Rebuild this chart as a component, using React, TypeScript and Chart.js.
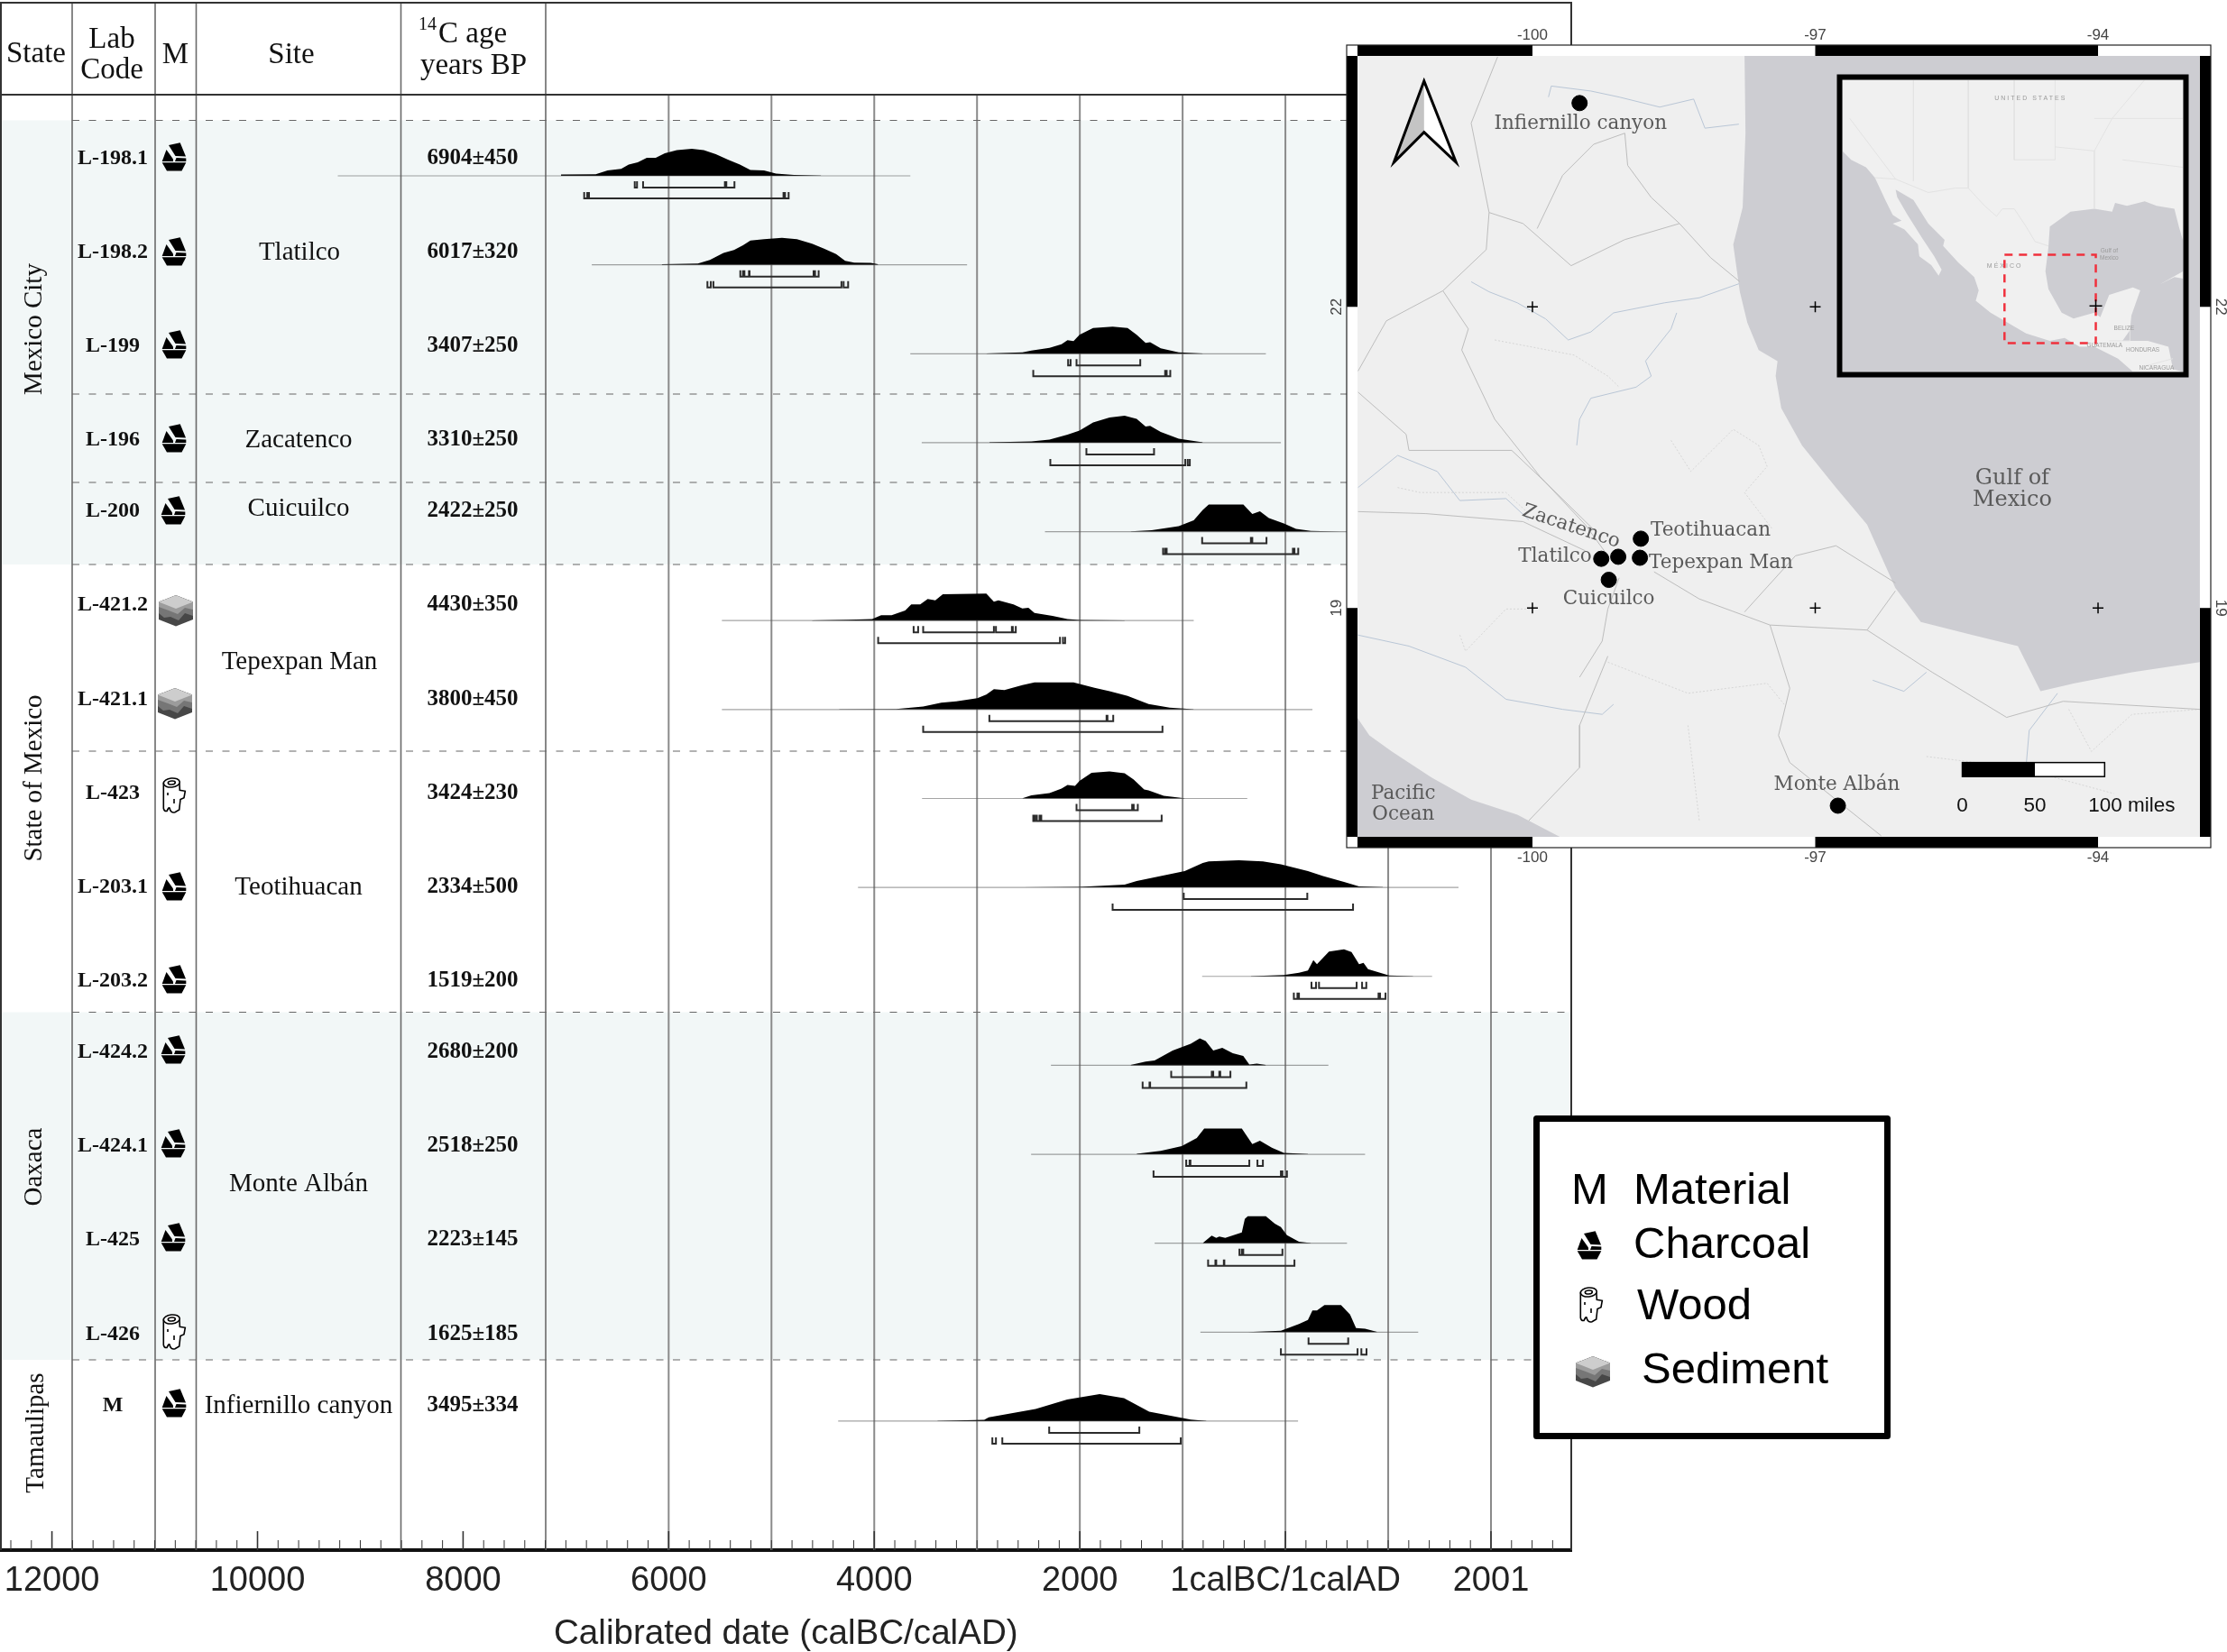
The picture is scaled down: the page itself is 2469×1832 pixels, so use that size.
import React, { useEffect, useRef } from "react";
import { Chart, registerables } from "chart.js";

Chart.register(...registerables);

const SERIF = '"Liberation Serif"';
const SANS = '"Liberation Sans"';
const SLAB = '"DejaVu Serif"';

/* ---------- table content ---------- */
const labCodes = ["L-198.1", "L-198.2", "L-199", "L-196", "L-200", "L-421.2", "L-421.1", "L-423", "L-203.1", "L-203.2", "L-424.2", "L-424.1", "L-425", "L-426", "M"];
const ages = ["6904±450", "6017±320", "3407±250", "3310±250", "2422±250", "4430±350", "3800±450", "3424±230", "2334±500", "1519±200", "2680±200", "2518±250", "2223±145", "1625±185", "3495±334"];
const materials = ["c", "c", "c", "c", "c", "s", "s", "w", "c", "c", "c", "c", "c", "w", "c"];
const siteNames = ["Tlatilco", "Zacatenco", "Cuicuilco", "Tepexpan Man", "Teotihuacan", "Monte Albán", "Infiernillo canyon"];
const stateNames = ["Mexico City", "State of Mexico", "Oaxaca", "Tamaulipas"];

/* ---------- calibrated ranges (years, negative = calBC) ---------- */
const tailStart = [-9219, -6748, -3649, -3538, -2339, -5482, -5482, -3535, -4158, -810, -2281, -2474, -1272, -827, -4351];
const tailEnd = [-3649, -3097, -190, -44, 620, -892, 263, -371, 1684, 1427, 418, 775, 599, 1292, 123];

const sigma1: number[][][] = [
  [[-6330, -6308], [-6249, -5453], [-5439, -5360]],
  [[-5303, -5277], [-5263, -5219], [-5213, -4590], [-4576, -4541]],
  [[-2114, -2090], [-2032, -1412]],
  [[-1936, -1278]],
  [[-810, -336], [-322, -184]],
  [[-3617, -3573], [-3524, -2836], [-2816, -2661], [-2652, -2623]],
  [[-2880, -1740], [-1731, -1675]],
  [[-2032, -1491], [-1476, -1436]],
  [[-989, 213]],
  [[254, 298], [327, 693], [746, 787]],
  [[-1111, -716], [-702, -643], [-634, -535]],
  [[-965, -932], [-924, -351], [-272, -219]],
  [[-447, -424], [-410, -29]],
  [[225, 611]],
  [[-2298, -1421]],
];
const sigma2: number[][][] = [
  [[-6822, -6792], [-6775, -4883], [-4868, -4833]],
  [[-5623, -5590], [-5565, -4319], [-4298, -4254]],
  [[-2453, -1170], [-1155, -1120]],
  [[-2287, -974], [-950, -930]],
  [[-1190, -1170], [-1155, 73], [88, 125]],
  [[-3962, -2193], [-2164, -2143]],
  [[-3524, -1196]],
  [[-2453, -2436], [-2418, -2392], [-2375, -1204]],
  [[-1681, 658]],
  [[82, 117], [132, 906], [921, 974]],
  [[-1389, -1322], [-1316, -380]],
  [[-1283, -44], [-29, 15]],
  [[-752, -681], [-673, -599], [-594, 88]],
  [[-44, 702], [739, 789]],
  [[-2851, -2816], [-2754, -1018]],
];

/* ---------- probability curves: [year, relative density] ---------- */
const density: number[][][] = [
  [[-7047, .05], [-6710, .06], [-6594, .2], [-6462, .26], [-6389, .42], [-6301, .5], [-6213, .67], [-6126, .67], [-6038, .83], [-5921, .95], [-5775, 1], [-5658, .95], [-5541, .8], [-5424, .6], [-5307, .42], [-5205, .22], [-5073, .2], [-4956, .08], [-4781, .03], [-4517, .01]],
  [[-6067, .02], [-5716, .05], [-5599, .18], [-5467, .44], [-5365, .55], [-5277, .72], [-5205, .9], [-5073, .95], [-4898, 1], [-4752, .95], [-4605, .78], [-4488, .6], [-4371, .4], [-4283, .15], [-4195, .08], [-4035, .07], [-3962, .02]],
  [[-2909, .01], [-2558, .05], [-2471, .12], [-2295, .22], [-2178, .35], [-2120, .5], [-2061, .47], [-2003, .7], [-1871, .95], [-1681, 1], [-1535, .95], [-1447, .7], [-1360, .4], [-1316, .43], [-1213, .2], [-1038, .05], [-804, .01]],
  [[-2880, .01], [-2471, .05], [-2295, .11], [-2120, .3], [-2003, .45], [-1871, .75], [-1711, .93], [-1564, 1], [-1447, .88], [-1360, .6], [-1316, .62], [-1213, .4], [-1038, .15], [-804, .01]],
  [[-1506, .01], [-1301, .05], [-1038, .2], [-892, .42], [-804, .8], [-746, 1], [-409, 1], [-322, .65], [-248, .75], [-161, .5], [-15, .3], [103, .1], [248, .03], [541, .005]],
  [[-4605, .01], [-4254, .03], [-4020, .06], [-3933, .2], [-3831, .2], [-3699, .37], [-3640, .6], [-3553, .6], [-3480, .8], [-3406, .75], [-3333, .97], [-2910, 1], [-2836, .7], [-2792, .75], [-2646, .6], [-2559, .45], [-2500, .47], [-2441, .28], [-2266, .17], [-2120, .06], [-2003, .02], [-1564, .005]],
  [[-4342, .01], [-3787, .02], [-3524, .11], [-3348, .25], [-3202, .3], [-2997, .42], [-2910, .55], [-2836, .75], [-2734, .72], [-2559, .9], [-2441, 1], [-2061, 1], [-1857, .8], [-1711, .68], [-1535, .5], [-1331, .2], [-1126, .07], [-892, .01]],
  [[-2559, .01], [-2471, .12], [-2295, .2], [-2178, .37], [-2120, .5], [-2047, .47], [-2003, .65], [-1886, .95], [-1711, 1], [-1564, .93], [-1476, .7], [-1374, .33], [-1331, .3], [-1184, .1], [-980, .01]],
  [[-2559, .005], [-2003, .02], [-1564, .1], [-1447, .24], [-980, .6], [-804, .9], [-746, .96], [-453, 1], [-219, .96], [-44, .85], [219, .6], [366, .42], [570, .2], [717, .04], [950, .01]],
  [[-336, .01], [-15, .05], [132, .13], [219, .22], [272, .6], [307, .45], [424, .92], [570, 1], [643, .9], [717, .45], [760, .5], [804, .27], [921, .13], [1009, .03], [1243, .005]],
  [[-1506, .01], [-1360, .14], [-1272, .18], [-1097, .55], [-921, .8], [-833, 1], [-775, .9], [-702, .55], [-614, .65], [-512, .45], [-410, .35], [-351, .03], [-278, .06], [-190, .01]],
  [[-1447, .02], [-1213, .13], [-1009, .3], [-862, .6], [-790, .95], [-424, .95], [-322, .38], [-248, .5], [-132, .24], [-15, .05], [219, .01]],
  [[-804, .01], [-717, .28], [-673, .2], [-643, .25], [-585, .2], [-424, .4], [-395, .9], [-366, 1], [-190, 1], [-103, .72], [-44, .6], [15, .3], [132, .06], [248, .01]],
  [[-366, .005], [-44, .05], [132, .3], [219, .45], [263, .8], [307, .8], [380, 1], [541, 1], [629, .65], [687, .15], [775, .13], [892, .01]],
  [[-3386, .01], [-2930, .05], [-2886, .14], [-2430, .45], [-2123, .8], [-1807, 1], [-1570, .85], [-1325, .35], [-921, .06], [-768, .01]],
];

/* ---------- time axis ---------- */
const axisYears = [-12000, -10000, -8000, -6000, -4000, -2000, 0, 2000];
const axisLabels = ["12000", "10000", "8000", "6000", "4000", "2000", "1calBC/1calAD", "2001"];
const gridYears = [-6000, -5000, -4000, -3000, -2000, -1000, 0, 1000, 2000];
const axisTicks: number[] = [];
for (let v = -12400; v <= 2600; v += 200) axisTicks.push(v);

/* ---------- layout of the table (pixels on the page) ---------- */
const columnX = [80, 172, 217.5, 444.5, 605];
const rowTextY = [176, 280, 384, 488, 567, 671, 776, 880, 984, 1088, 1167, 1271, 1375, 1480, 1559];
const iconY = [174, 279, 382, 486, 566, 677, 780, 882, 983, 1086, 1164, 1268, 1372, 1477, 1556];
const iconX = [193, 193, 193, 193, 192, 195, 194, 193, 193, 193, 192, 192, 192, 193, 193];
const siteX = [332, 331, 331, 332, 331, 331, 331];
const siteY = [280, 488, 564, 734, 984, 1313, 1559];
const stateX = [38, 38, 38, 40];
const stateY = [365, 863, 1294, 1589];
const ROW1 = 195, ROWH = 98.64, PEAK = 30 / 98.64, OFF1 = 13 / 98.64, OFF2 = 25 / 98.64, TICK = 7 / 98.64;
const toRow = (py: number) => 1 + (py - ROW1) / ROWH;
const dashedY = [133.5, 437, 535, 626, 833, 1122.5, 1508];
const bands = [[133.5, 626], [1122.5, 1508]];

/* ---------- main map, lon / lat ---------- */
const gulf = [[-97.75, 24.5], [-97.74, 23.73], [-97.77, 22.99], [-97.87, 22.62], [-97.8, 22.15], [-97.72, 21.84], [-97.6, 21.57], [-97.4, 21.46], [-97.42, 21.31], [-97.36, 20.99], [-97.14, 20.62], [-96.78, 20.2], [-96.45, 19.83], [-96.15, 19.2], [-95.88, 18.86], [-95.33, 18.73], [-94.85, 18.62], [-94.61, 18.17], [-94.25, 18.25], [-93.64, 18.36], [-92.92, 18.46], [-92.92, 24.5]];
const pacific = [[-101.86, 17.91], [-101.73, 17.73], [-101.49, 17.57], [-101.07, 17.31], [-100.65, 17.09], [-100.16, 16.94], [-99.71, 16.72], [-101.86, 16.72]];
const roads = [
  [[-100.37, 24.49], [-100.65, 23.83], [-100.46, 22.94]],
  [[-100.46, 22.94], [-100.1, 22.83], [-99.59, 22.41], [-99.02, 22.67], [-98.44, 22.83], [-98.11, 22.49], [-97.8, 22.25]],
  [[-100.46, 22.94], [-100.49, 22.57], [-100.95, 22.16], [-101.55, 21.86], [-101.85, 21.36]],
  [[-100.95, 22.16], [-100.68, 21.78], [-100.75, 21.57], [-100.4, 20.88], [-99.92, 20.31], [-99.44, 19.83], [-99.2, 19.52]],
  [[-101.85, 21.15], [-101.34, 20.73], [-101.31, 20.57], [-100.22, 20.57], [-99.86, 20.25], [-99.35, 19.78]],
  [[-101.85, 19.96], [-101.13, 19.94], [-100.1, 19.86], [-99.44, 19.57]],
  [[-98.71, 19.36], [-98.23, 19.09], [-97.48, 18.83], [-96.45, 18.78], [-95.76, 18.36], [-94.97, 17.91], [-94.37, 18.07], [-92.92, 17.99]],
  [[-97.48, 18.83], [-97.27, 18.2], [-97.39, 17.73], [-97.27, 17.46], [-96.78, 17.09], [-96.3, 16.73]],
  [[-96.45, 18.78], [-96.15, 19.17]],
  [[-99.2, 18.99], [-99.26, 18.67], [-99.5, 18.31]],
  [[-99.2, 18.52], [-99.5, 17.83], [-99.5, 17.41], [-100.04, 16.88]],
  [[-97.75, 18.96], [-97.21, 19.52], [-96.78, 19.62], [-96.15, 19.25]],
  [[-99.95, 22.78], [-99.68, 23.31], [-99.35, 23.62], [-99.02, 23.73], [-98.99, 23.41], [-98.74, 23.09], [-98.44, 22.83]],
  [[-99.08, 19.3], [-99.2, 18.99]],
];
const rivers = [
  [[-100.65, 22.25], [-100.46, 22.15], [-100.16, 22.04], [-99.86, 21.88], [-99.62, 21.67], [-99.38, 21.75], [-99.14, 21.94], [-98.6, 22.04], [-98.23, 22.09], [-97.81, 22.23]],
  [[-99.53, 20.62], [-99.5, 20.88], [-99.38, 21.09], [-98.9, 21.2], [-98.74, 21.31], [-98.8, 21.46], [-98.53, 21.78], [-98.47, 21.94]],
  [[-101.85, 18.73], [-101.31, 18.62], [-100.71, 18.41], [-100.28, 18.09], [-99.68, 17.99], [-99.26, 17.94], [-99.14, 18.04]],
  [[-99.83, 24.09], [-99.8, 24.2], [-99.38, 24.15], [-99.08, 24.09], [-98.65, 23.99], [-98.29, 24.07], [-98.17, 23.78], [-97.81, 23.82]],
  [[-101.85, 20.2], [-101.43, 20.52], [-101.01, 20.36], [-100.77, 20.07], [-100.28, 20.09], [-100.04, 19.88]],
  [[-96.39, 18.28], [-96.06, 18.17], [-95.82, 18.36]],
  [[-94.43, 18.15], [-94.73, 17.78], [-94.76, 17.46], [-94.25, 17.36]],
];
const borders = [
  [[-98.53, 20.67], [-98.32, 20.36], [-97.87, 20.78], [-97.6, 20.62], [-97.51, 20.41], [-97.75, 20.15], [-97.45, 19.78]],
  [[-100.77, 18.73], [-100.71, 18.57], [-100.28, 18.99], [-99.98, 18.99]],
  [[-100.4, 21.67], [-99.56, 21.52], [-99.2, 21.31], [-99.08, 21.2]],
  [[-101.43, 20.2], [-101.19, 20.15], [-100.28, 20.15], [-100.04, 19.94]],
  [[-99.2, 18.46], [-98.35, 18.15], [-97.51, 18.25], [-97.33, 18.04]],
  [[-98.35, 17.83], [-98.23, 16.88]],
  [[-95.82, 17.52], [-94.85, 17.41], [-93.83, 17.15]],
  [[-94.31, 17.99], [-94.07, 17.57], [-93.64, 17.94], [-92.92, 17.99]],
];
const graticuleLon = [-100, -97, -94];
const graticuleLat = [22, 19];
const crosses = [[-100, 22], [-97, 22], [-100, 19], [-97, 19], [-94, 19]];
const sitePoints = [[-99.5, 24.03], [-98.85, 19.69], [-98.86, 19.5], [-99.09, 19.51], [-99.27, 19.49], [-99.19, 19.28], [-96.76, 17.03]];
const mapLabelText = ["Infiernillo canyon", "Teotihuacan", "Tepexpan Man", "Tlatilco", "Cuicuilco", "Monte Albán", "Pacific", "Ocean"];
const mapLabelLon = [-99.49, -98.11, -98.0, -99.76, -99.19, -96.77, -101.37, -101.37];
const mapLabelLat = [23.82, 19.77, 19.45, 19.51, 19.09, 17.24, 17.15, 16.94];
const gulfLabelText = ["Gulf of", "Mexico"];
const gulfLabelLon = [-94.91, -94.91];
const gulfLabelLat = [20.29, 20.07];
const northArrow = [[-101.15, 24.25], [-100.81, 23.44], [-101.15, 23.74], [-101.47, 23.44]];
const scaleBarLon = [-95.44, -94.67, -93.93];

/* ---------- inset, lon / lat ---------- */
const insetPacific = [[-117.73, 33.64], [-116.86, 32.86], [-115.41, 32.2], [-114.54, 31.29], [-113.52, 29.33], [-112.8, 28.02], [-111.93, 27.5], [-112.8, 27.24], [-111.64, 26.72], [-110.33, 25.41], [-110.19, 24.37], [-109.02, 23.59], [-108.3, 22.67], [-108.01, 23.19], [-108.73, 24.37], [-109.89, 25.94], [-111.35, 28.02], [-112.36, 29.59], [-112.51, 30.24], [-110.77, 29.33], [-109.31, 27.24], [-107.72, 25.81], [-107.86, 25.28], [-106.41, 23.85], [-104.82, 22.54], [-104.38, 21.37], [-104.67, 20.45], [-103.22, 19.41], [-101.48, 18.49], [-99.74, 17.58], [-97.42, 16.93], [-95.97, 17.19], [-94.51, 16.41], [-93.06, 16.41], [-90.74, 15.36], [-89.58, 14.45], [-89.29, 14.19], [-117.73, 14.19]];
const insetGulf = [[-84.36, 25.67], [-84.79, 26.98], [-85.23, 28.55], [-86.97, 28.81], [-88.13, 29.2], [-89.87, 28.81], [-91.03, 29.07], [-91.32, 28.29], [-93.06, 28.55], [-95.39, 28.29], [-97.42, 26.98], [-97.56, 25.15], [-97.85, 23.06], [-97.56, 21.5], [-96.26, 19.41], [-95.1, 18.89], [-93.06, 19.41], [-92.48, 19.02], [-91.61, 20.98], [-89.29, 21.63], [-88.57, 21.37], [-89.44, 19.15], [-89.58, 17.86], [-90.31, 16.93], [-87.84, 16.93], [-85.81, 16.41], [-85.37, 14.45], [-84.36, 14.19]];
const insetCuba = [[-86.68, 21.89], [-84.36, 23.06], [-84.36, 22.41], [-85.23, 22.54]];
const insetBorders = [
  [[-114.54, 31.29], [-112.51, 31.16], [-109.31, 29.98], [-106.7, 30.37], [-105.4, 30.37], [-103.8, 28.81], [-102.64, 27.89], [-102.06, 28.55], [-100.9, 28.55], [-99.74, 26.98], [-98.87, 25.67], [-97.56, 25.28]],
  [[-100.9, 39.9], [-100.9, 32.86], [-96.9, 32.86], [-96.9, 39.9]],
  [[-105.4, 39.9], [-105.4, 30.37]],
  [[-110.77, 39.9], [-110.77, 31]],
  [[-117, 36.5], [-112.51, 31.16]],
  [[-96.9, 34], [-93.06, 33.64], [-91.32, 36.5], [-88.13, 39.9]],
  [[-93.06, 33.64], [-93.06, 28.55]],
  [[-93.06, 36.5], [-84.36, 36.5]],
  [[-90.31, 32.86], [-84.36, 32.2]],
  [[-91.61, 16.93], [-89.58, 16.93], [-89.58, 18.1]],
  [[-88.13, 14.7], [-85.37, 15.36]],
];
const redBoxLon = [-101.856, -92.919];
const redBoxLat = [24.5, 16.72];
const insetLabelText = ["UNITED STATES", "MÉXICO", "Gulf of", "Mexico", "BELIZE", "GUATEMALA", "HONDURAS", "NICARAGUA"];
const insetLabelLon = [-99.3, -101.83, -91.61, -91.61, -90.16, -92.05, -88.33, -86.97];
const insetLabelLat = [38.29, 23.48, 24.81, 24.19, 18.05, 16.51, 16.09, 14.53];
const insetCross = [[-92.92, 20.01]];

/* ---------- helpers ---------- */
function txt(ctx: CanvasRenderingContext2D, s: string, x: number, y: number, font: string, color = "#111", align: CanvasTextAlign = "center", base: CanvasTextBaseline = "middle", rot = 0) {
  ctx.save();
  ctx.translate(x, y);
  if (rot) ctx.rotate(rot);
  ctx.font = font;
  ctx.fillStyle = color;
  ctx.textAlign = align;
  ctx.textBaseline = base;
  ctx.fillText(s, 0, 0);
  ctx.restore();
}
function poly(ctx: CanvasRenderingContext2D, pts: number[][]) {
  ctx.beginPath();
  pts.forEach((p, i) => (i ? ctx.lineTo(p[0], p[1]) : ctx.moveTo(p[0], p[1])));
  ctx.closePath();
}
function charcoal(ctx: CanvasRenderingContext2D, x: number, y: number) {
  ctx.save();
  ctx.translate(x, y);
  ctx.fillStyle = "#000";
  [
    [[-6, -13], [6.7, -15.7], [13, -0.5], [1.5, -1]],
    [[-13.3, 5], [-8.5, -8], [-1, 2.5], [-1, 5]],
    [[1, 5], [2.5, 1], [13.3, 1.5], [13.3, 5]],
    [[-13.3, 6.3], [13.3, 6.3], [8.5, 15.5], [-8, 15.5]],
  ].forEach((s) => {
    poly(ctx, s);
    ctx.fill();
  });
  ctx.restore();
}
function wood(ctx: CanvasRenderingContext2D, x: number, y: number) {
  ctx.save();
  ctx.translate(x, y);
  ctx.strokeStyle = "#000";
  ctx.fillStyle = "#fff";
  ctx.lineWidth = 1.6;
  ctx.beginPath();
  ctx.moveTo(-11.7, -13);
  ctx.lineTo(-11.7, 14.3);
  ctx.quadraticCurveTo(-11, 18, -8, 17.5);
  ctx.quadraticCurveTo(-6, 13, -5, 14);
  ctx.quadraticCurveTo(-4, 20, 1, 18.8);
  ctx.lineTo(5.7, 16);
  ctx.lineTo(7, 4.5);
  ctx.lineTo(11, 2.7);
  ctx.lineTo(12.3, -4.7);
  ctx.lineTo(6.3, -5.7);
  ctx.lineTo(6, -13);
  ctx.closePath();
  ctx.fill();
  ctx.stroke();
  ctx.beginPath();
  ctx.ellipse(-2.7, -14, 9, 5, -0.1, 0, Math.PI * 2);
  ctx.fill();
  ctx.stroke();
  ctx.beginPath();
  ctx.ellipse(-2.7, -14, 4, 2, -0.1, 0, Math.PI * 2);
  ctx.stroke();
  ctx.beginPath();
  ctx.moveTo(-7, -3);
  ctx.lineTo(-7, 0);
  ctx.moveTo(0, 4);
  ctx.lineTo(0, 9);
  ctx.stroke();
  ctx.restore();
}
function sediment(ctx: CanvasRenderingContext2D, x: number, y: number) {
  ctx.save();
  ctx.translate(x, y);
  const hex = [[0, -17], [19, -9.5], [19, 10], [0, 17.5], [-19, 10], [-19, -9.5]];
  poly(ctx, hex);
  ctx.fillStyle = "#474747";
  ctx.fill();
  ctx.clip();
  ctx.fillStyle = "#767676";
  poly(ctx, [[-19, -12], [19, -12], [19, 6], [10, 3], [3, 11], [-6, 7], [-13, 8], [-19, 3]]);
  ctx.fill();
  ctx.fillStyle = "#9c9c9c";
  poly(ctx, [[-19, -12], [19, -12], [19, -1], [10, -3], [2, 4], [-8, 0], [-19, -4]]);
  ctx.fill();
  ctx.fillStyle = "#cdcdcd";
  poly(ctx, [[0, -17], [19, -9.5], [0, -2], [-19, -9.5]]);
  ctx.fill();
  ctx.restore();
}
const drawIcon: Record<string, typeof charcoal> = { c: charcoal, w: wood, s: sediment };
const xy = (p: number[]) => ({ x: p[0], y: p[1] });

/* ---------- main chart plugin: table, bands, legend ---------- */
const tablePlugin = {
  id: "table",
  beforeDatasetsDraw(chart: any) {
    const ctx: CanvasRenderingContext2D = chart.ctx;
    const x = chart.scales.x, y = chart.scales.y;
    const py = (p: number) => y.getPixelForValue(toRow(p));
    const R = x.right, T = y.top, B = y.bottom;
    ctx.save();
    ctx.fillStyle = "#f2f7f7";
    bands.forEach(([a, b]) => ctx.fillRect(0, py(a), R, py(b) - py(a)));
    ctx.strokeStyle = "#8a8a8a";
    ctx.lineWidth = 2;
    gridYears.forEach((g) => {
      const gx = x.getPixelForValue(g);
      ctx.beginPath();
      ctx.moveTo(gx, py(105));
      ctx.lineTo(gx, B);
      ctx.stroke();
    });
    ctx.strokeStyle = "#6a6a6a";
    ctx.lineWidth = 1.6;
    columnX.forEach((c) => {
      ctx.beginPath();
      ctx.moveTo(c, T);
      ctx.lineTo(c, B);
      ctx.stroke();
    });
    ctx.setLineDash([8, 10.5]);
    ctx.strokeStyle = "#666";
    ctx.lineWidth = 1.2;
    dashedY.forEach((d) => {
      ctx.beginPath();
      ctx.moveTo(80, py(d));
      ctx.lineTo(R, py(d));
      ctx.stroke();
    });
    ctx.setLineDash([]);
    ctx.strokeStyle = "#333";
    ctx.lineWidth = 2;
    ctx.beginPath();
    ctx.moveTo(1, B);
    ctx.lineTo(1, T);
    ctx.lineTo(R, T);
    ctx.lineTo(R, B);
    ctx.moveTo(0, py(105));
    ctx.lineTo(R, py(105));
    ctx.stroke();
    ctx.restore();
  },
  afterDraw(chart: any) {
    const ctx: CanvasRenderingContext2D = chart.ctx;
    const x = chart.scales.x, y = chart.scales.y;
    ctx.save();
    ctx.strokeStyle = "#333";
    axisTicks.forEach((t) => {
      const tx = x.getPixelForValue(t);
      const major = axisYears.includes(t);
      ctx.lineWidth = major ? 1.6 : 1;
      ctx.beginPath();
      ctx.moveTo(tx, y.bottom);
      ctx.lineTo(tx, y.bottom - (major ? 21 : 11));
      ctx.stroke();
    });
    ctx.restore();

    const h = `33px ${SERIF}`;
    txt(ctx, "State", 40, 69, h, "#111", "center", "alphabetic");
    txt(ctx, "Lab", 124, 53, h, "#111", "center", "alphabetic");
    txt(ctx, "Code", 124, 86.5, h, "#111", "center", "alphabetic");
    txt(ctx, "M", 194.5, 69.5, h, "#111", "center", "alphabetic");
    txt(ctx, "Site", 323, 70, h, "#111", "center", "alphabetic");
    txt(ctx, "14", 464, 33, `20px ${SERIF}`, "#111", "left", "alphabetic");
    txt(ctx, "C age", 486, 47, h, "#111", "left", "alphabetic");
    txt(ctx, "years BP", 525, 82, h, "#111", "center", "alphabetic");

    labCodes.forEach((c, i) => {
      txt(ctx, c, 125, rowTextY[i], `bold 24px ${SERIF}`);
      txt(ctx, ages[i], 524, rowTextY[i], `bold 25px ${SERIF}`);
      drawIcon[materials[i]](ctx, iconX[i], iconY[i]);
    });
    siteNames.forEach((s, i) => txt(ctx, s, siteX[i], siteY[i], `29px ${SERIF}`));
    stateNames.forEach((s, i) => txt(ctx, s, stateX[i], stateY[i], `29px ${SERIF}`, "#111", "center", "middle", -Math.PI / 2));

    // legend box
    ctx.save();
    ctx.fillStyle = "#fff";
    ctx.strokeStyle = "#000";
    ctx.lineWidth = 7;
    ctx.lineJoin = "round";
    ctx.fillRect(1703.5, 1240.5, 389, 352);
    ctx.strokeRect(1703.5, 1240.5, 389, 352);
    ctx.restore();
    const lf = `49px ${SANS}`;
    txt(ctx, "M", 1742, 1335, lf, "#000", "left", "alphabetic");
    txt(ctx, "Material", 1811, 1335, lf, "#000", "left", "alphabetic");
    txt(ctx, "Charcoal", 1811, 1395, lf, "#000", "left", "alphabetic");
    txt(ctx, "Wood", 1815, 1463, lf, "#000", "left", "alphabetic");
    txt(ctx, "Sediment", 1820, 1534, lf, "#000", "left", "alphabetic");
    charcoal(ctx, 1762, 1381);
    wood(ctx, 1764, 1447);
    sediment(ctx, 1766, 1521);
  },
};

/* ---------- map plugin ---------- */
const mapPlugin = {
  id: "mapFrame",
  beforeDatasetsDraw(chart: any) {
    const { ctx, chartArea: a } = chart;
    ctx.fillStyle = "#efefef";
    ctx.fillRect(a.left, a.top, a.right - a.left, a.bottom - a.top);
  },
  afterDraw(chart: any) {
    const ctx: CanvasRenderingContext2D = chart.ctx;
    const x = chart.scales.x, y = chart.scales.y;
    const a = chart.chartArea;
    const px = (v: number) => x.getPixelForValue(v);
    const py = (v: number) => y.getPixelForValue(v);

    // graduated frame
    const W = 12;
    const L = a.left - W, Rr = a.right + W, Tt = a.top - W, Bb = a.bottom + W;
    ctx.save();
    ctx.fillStyle = "#fff";
    ctx.fillRect(L, Tt, Rr - L, W);
    ctx.fillRect(L, a.bottom, Rr - L, W);
    ctx.fillRect(L, Tt, W, Bb - Tt);
    ctx.fillRect(a.right, Tt, W, Bb - Tt);
    ctx.fillStyle = "#000";
    const g0 = px(graticuleLon[0]), g1 = px(graticuleLon[1]), g2 = px(graticuleLon[2]);
    [Tt, a.bottom].forEach((t) => {
      ctx.fillRect(a.left, t, g0 - a.left, W);
      ctx.fillRect(g1, t, g2 - g1, W);
    });
    const l0 = py(graticuleLat[0]), l1 = py(graticuleLat[1]);
    [L, a.right].forEach((s) => {
      ctx.fillRect(s, a.top, W, l0 - a.top);
      ctx.fillRect(s, l1, W, a.bottom - l1);
    });
    ctx.strokeStyle = "#222";
    ctx.lineWidth = 1.2;
    ctx.strokeRect(L, Tt, Rr - L, Bb - Tt);
    ctx.restore();

    const tf = `17px ${SANS}`;
    graticuleLon.forEach((g) => {
      txt(ctx, String(g), px(g), 39 - chart.canvas.offsetTop, tf, "#444");
      txt(ctx, String(g), px(g), 951 - chart.canvas.offsetTop, tf, "#444");
    });
    graticuleLat.forEach((g) => {
      txt(ctx, String(g), L - 11, py(g), tf, "#444", "center", "middle", -Math.PI / 2);
      txt(ctx, String(g), Rr + 11, py(g), tf, "#444", "center", "middle", Math.PI / 2);
    });

    // labels
    const lf = `21.5px ${SLAB}`;
    mapLabelText.forEach((s, i) => txt(ctx, s, px(mapLabelLon[i]), py(mapLabelLat[i]), lf, "#5a5a5a"));
    gulfLabelText.forEach((s, i) => txt(ctx, s, px(gulfLabelLon[i]), py(gulfLabelLat[i]), `24px ${SLAB}`, "#5a5a5a"));
    txt(ctx, "Zacatenco", px(-99.59), py(19.81), lf, "#5a5a5a", "center", "middle", 0.32);

    // north arrow
    ctx.save();
    const arrow = northArrow.map((p) => [px(p[0]), py(p[1])]);
    poly(ctx, arrow);
    ctx.fillStyle = "#fff";
    ctx.fill();
    poly(ctx, [arrow[0], arrow[2], arrow[3]]);
    ctx.fillStyle = "#c4c4c4";
    ctx.fill();
    poly(ctx, arrow);
    ctx.strokeStyle = "#000";
    ctx.lineWidth = 3;
    ctx.lineJoin = "miter";
    ctx.stroke();
    ctx.restore();

    // scale bar
    const sb = scaleBarLon.map(px);
    const sy = py(17.46), sh = py(17.32) - sy;
    ctx.fillStyle = "#000";
    ctx.fillRect(sb[0], sy, sb[1] - sb[0], sh);
    ctx.fillStyle = "#fff";
    ctx.fillRect(sb[1], sy, sb[2] - sb[1], sh);
    ctx.strokeStyle = "#000";
    ctx.lineWidth = 1.5;
    ctx.strokeRect(sb[0], sy, sb[2] - sb[0], sh);
    const sf = `22.5px ${SANS}`;
    const ly = py(17.03);
    txt(ctx, "0", sb[0], ly, sf, "#111");
    txt(ctx, "50", sb[1], ly, sf, "#111");
    txt(ctx, "100 miles", sb[2] + 30, ly, sf, "#111");
  },
};

const insetPlugin = {
  id: "insetFrame",
  beforeDatasetsDraw(chart: any) {
    const { ctx, chartArea: a } = chart;
    ctx.fillStyle = "#f0f0f0";
    ctx.fillRect(a.left, a.top, a.right - a.left, a.bottom - a.top);
  },
  afterDraw(chart: any) {
    const ctx: CanvasRenderingContext2D = chart.ctx;
    const x = chart.scales.x, y = chart.scales.y;
    const a = chart.chartArea;
    insetLabelText.forEach((s, i) => {
      ctx.save();
      (ctx as any).letterSpacing = i < 2 ? "2px" : "0px";
      txt(ctx, s, x.getPixelForValue(insetLabelLon[i]), y.getPixelForValue(insetLabelLat[i]), `${i < 2 ? 7 : 6.5}px ${SANS}`, "#9a9a9a");
      ctx.restore();
    });
    ctx.strokeStyle = "#000";
    ctx.lineWidth = 6;
    ctx.strokeRect(a.left - 3, a.top - 3, a.right - a.left + 6, a.bottom - a.top + 6);
  },
};

export default function App() {
  const mainRef = useRef<HTMLCanvasElement>(null);
  const mapRef = useRef<HTMLCanvasElement>(null);
  const insetRef = useRef<HTMLCanvasElement>(null);

  useEffect(() => {
    const base = { responsive: false, animation: false as const, devicePixelRatio: 1, events: [] as any[] };
    const noUi = { legend: { display: false }, tooltip: { enabled: false }, title: { display: false } };
    const line = { pointRadius: 0, showLine: true, tension: 0 };

    const ds: any[] = [];
    density.forEach((curve, i) => {
      const r = i + 1;
      ds.push({ ...line, data: [{ x: tailStart[i], y: r }, { x: tailEnd[i], y: r }], borderColor: "rgba(90,90,90,.55)", borderWidth: 1.2 });
      const pts = [{ x: curve[0][0], y: r }, ...curve.map((c) => ({ x: c[0], y: r - c[1] * PEAK })), { x: curve[curve.length - 1][0], y: r }];
      ds.push({ ...line, data: pts, borderWidth: 0, borderColor: "#000", backgroundColor: "#000", fill: { value: r } });
      [[sigma1[i], OFF1], [sigma2[i], OFF2]].forEach(([segs, off]: any) => {
        const d: any[] = [];
        segs.forEach((s: number[]) => {
          d.push({ x: s[0], y: r + off - TICK }, { x: s[0], y: r + off }, { x: s[1], y: r + off }, { x: s[1], y: r + off - TICK }, { x: NaN, y: NaN });
        });
        ds.push({ ...line, data: d, borderColor: "#2b2b2b", borderWidth: 2, spanGaps: false });
      });
    });

    const main = new Chart(mainRef.current!, {
      type: "scatter",
      data: { datasets: ds },
      plugins: [tablePlugin],
      options: {
        ...base,
        layout: { padding: { left: 0, right: 727, top: 3, bottom: 0 } },
        plugins: noUi,
        scales: {
          y: { display: false, reverse: true, min: toRow(3), max: toRow(1719) },
          x: {
            type: "linear",
            position: "bottom",
            min: -12500,
            max: 2781,
            afterBuildTicks: (s: any) => {
              s.ticks = axisTicks.map((value) => ({ value }));
            },
            afterFit: (s: any) => {
              s.height = 113;
            },
            grid: { display: false, drawTicks: false },
            border: { display: true, color: "#111", width: 4 },
            ticks: {
              autoSkip: false,
              maxRotation: 0,
              minRotation: 0,
              padding: 12,
              color: "#222",
              font: { family: "Liberation Sans", size: 38 },
              callback: (v: any) => {
                const k = axisYears.indexOf(Number(v));
                return k >= 0 ? axisLabels[k] : "";
              },
            },
            title: {
              display: true,
              text: "Calibrated date (calBC/calAD)",
              color: "#222",
              font: { family: "Liberation Sans", size: 38.6 },
              padding: { top: 0, bottom: -4 },
            },
          },
        },
      },
    } as any);

    // Chart.js paints the first dataset on top, so the layers run top-down here.
    const mapDs: any[] = [
      { data: sitePoints.map(xy), pointStyle: "circle", pointRadius: 8.5, backgroundColor: "#000", borderColor: "#000" },
      { data: crosses.map(xy), pointStyle: "cross", pointRadius: 6, borderColor: "#000", borderWidth: 1.5 },
      ...roads.map((b) => ({ ...line, data: b.map(xy), borderColor: "#bdbdbd", borderWidth: 1 })),
      ...rivers.map((b) => ({ ...line, data: b.map(xy), borderColor: "#b9c6d6", borderWidth: 1 })),
      ...borders.map((b) => ({ ...line, data: b.map(xy), borderColor: "#d6d6d6", borderWidth: 1, borderDash: [2, 2] })),
      { ...line, data: pacific.map(xy), fill: "shape", backgroundColor: "#cdcdd2", borderWidth: 0 },
      { ...line, data: gulf.map(xy), fill: "shape", backgroundColor: "#cdcdd2", borderWidth: 0 },
    ];
    const map = new Chart(mapRef.current!, {
      type: "scatter",
      data: { datasets: mapDs },
      plugins: [mapPlugin],
      options: {
        ...base,
        layout: { padding: { left: 35, right: 30, top: 42, bottom: 37 } },
        plugins: noUi,
        scales: {
          x: { display: false, type: "linear", min: -101.856, max: -92.919 },
          y: { display: false, min: 16.72, max: 24.5 },
        },
      },
    } as any);

    const insetDs: any[] = [
      { data: insetCross.map(xy), pointStyle: "cross", pointRadius: 7, borderColor: "#000", borderWidth: 1.5 },
      {
        ...line,
        data: [
          { x: redBoxLon[0], y: redBoxLat[0] },
          { x: redBoxLon[1], y: redBoxLat[0] },
          { x: redBoxLon[1], y: redBoxLat[1] },
          { x: redBoxLon[0], y: redBoxLat[1] },
          { x: redBoxLon[0], y: redBoxLat[0] },
        ],
        borderColor: "#f0303c",
        borderWidth: 2.5,
        borderDash: [9, 7],
      },
      ...insetBorders.map((b) => ({ ...line, data: b.map(xy), borderColor: "#e3e3e3", borderWidth: 1 })),
      { ...line, data: insetCuba.map(xy), fill: "shape", backgroundColor: "#f0f0f0", borderWidth: 0 },
      { ...line, data: insetGulf.map(xy), fill: "shape", backgroundColor: "#cdcdd2", borderWidth: 0 },
      { ...line, data: insetPacific.map(xy), fill: "shape", backgroundColor: "#cdcdd2", borderWidth: 0 },
    ];
    const inset = new Chart(insetRef.current!, {
      type: "scatter",
      data: { datasets: insetDs },
      plugins: [insetPlugin],
      options: {
        ...base,
        layout: { padding: 6 },
        plugins: noUi,
        scales: {
          x: { display: false, type: "linear", min: -117.73, max: -84.36 },
          y: { display: false, min: 14.19, max: 39.9 },
        },
      },
    } as any);

    return () => {
      main.destroy();
      map.destroy();
      inset.destroy();
    };
  }, []);

  const abs = (l: number, t: number, z: number): React.CSSProperties => ({ position: "absolute", left: l, top: t, zIndex: z, display: "block" });
  return (
    <div style={{ position: "absolute", left: 0, top: 0, width: 2469, height: 1832, overflow: "hidden", background: "#fff" }}>
      <canvas ref={mainRef} width={2469} height={1832} style={abs(0, 0, 1)} />
      <canvas ref={mapRef} width={999} height={945} style={abs(1470, 20, 2)} />
      <canvas ref={insetRef} width={395} height={341} style={abs(2034, 80, 3)} />
    </div>
  );
}
